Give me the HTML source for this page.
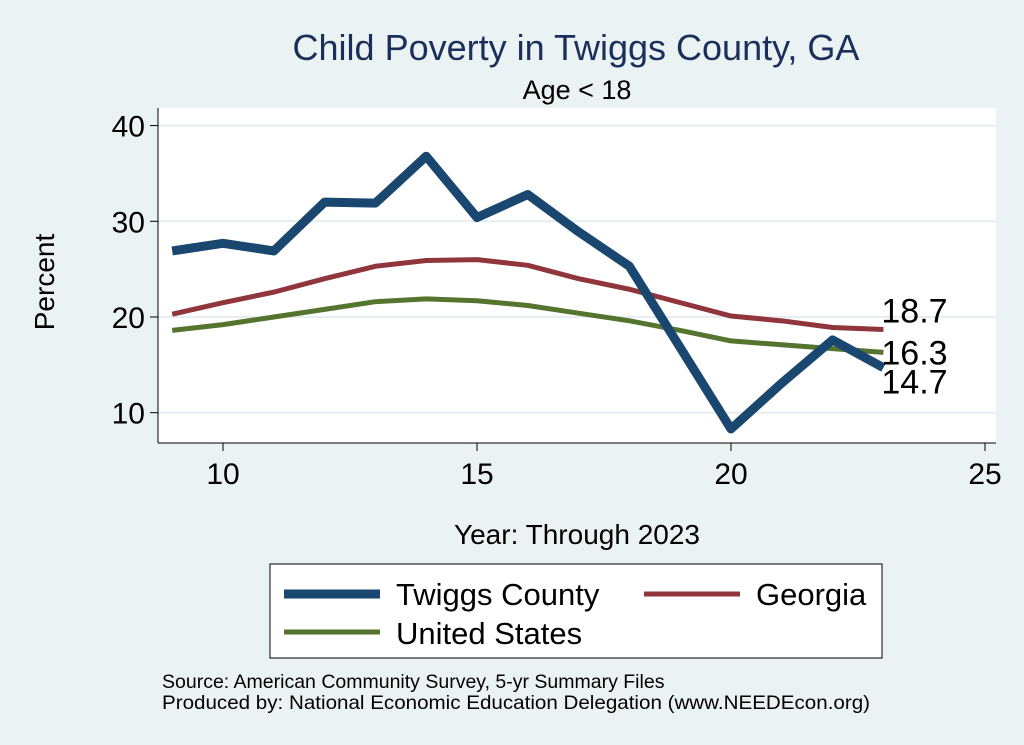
<!DOCTYPE html>
<html><head><meta charset="utf-8"><style>
body{margin:0;background:#eaf2f3;}
svg{display:block;font-family:"Liberation Sans",sans-serif;}
</style></head><body>
<svg id="c" width="1024" height="745">
<rect x="0" y="0" width="1024" height="745" fill="#eaf2f3"/>
<rect x="158" y="108" width="838" height="335" fill="#fff"/>
<text x="576" y="60" font-size="36" fill="#1a2f5a" text-anchor="middle">Child Poverty in Twiggs County, GA</text>
<text x="577" y="99" font-size="27" fill="#000" text-anchor="middle">Age &lt; 18</text>
<text x="54" y="282" font-size="28" text-anchor="middle" transform="rotate(-90 54 282)">Percent</text>
<text x="577" y="544" font-size="28" text-anchor="middle">Year: Through 2023</text>
<g id="grid"></g><g id="axes"></g><g id="series"></g>
<rect x="270" y="564" width="612" height="94" fill="#fff" stroke="#000" stroke-width="1"/>
<g><line x1="284" y1="594" x2="380" y2="594" stroke="#1a476f" stroke-width="9"/><text x="396" y="605" font-size="31">Twiggs County</text></g>
<g><line x1="644" y1="594" x2="740" y2="594" stroke="#90353b" stroke-width="5"/><text x="756" y="605" font-size="31">Georgia</text></g>
<g><line x1="284" y1="632" x2="380" y2="632" stroke="#55752f" stroke-width="5"/><text x="396" y="644" font-size="31">United States</text></g>
<text x="162" y="688" font-size="19.5">Source: American Community Survey, 5-yr Summary Files</text>
<text x="162" y="709" font-size="19.5" textLength="708" lengthAdjust="spacingAndGlyphs">Produced by: National Economic Education Delegation (www.NEEDEcon.org)</text>
</svg>
<script>
const years=[9,10,11,12,13,14,15,16,17,18,19,20,21,22,23];
const twiggs=[26.9,27.7,26.9,32.0,31.9,36.8,30.4,32.8,28.9,25.3,16.8,8.3,13.1,17.6,14.7];
const georgia=[20.3,21.5,22.6,24.0,25.3,25.9,26.0,25.4,24.0,22.9,21.5,20.1,19.6,18.9,18.7];
const us=[18.6,19.2,20.0,20.8,21.6,21.9,21.7,21.2,20.4,19.6,18.6,17.5,17.1,16.7,16.3];
const xTicks=[10,15,20,25];
const yTicks=[10,20,30,40];
const NS='http://www.w3.org/2000/svg';
const X=v=>223+(v-10)*50.8;
const Y=v=>317-(v-20)*9.57;
function mk(t,a,p){const e=document.createElementNS(NS,t);for(const k in a)e.setAttribute(k,a[k]);p.appendChild(e);return e;}
const grid=document.getElementById('grid'),axes=document.getElementById('axes'),ser=document.getElementById('series');
mk('line',{x1:158,y1:108,x2:158,y2:443,stroke:'#000','stroke-width':1},axes);
mk('line',{x1:158,y1:443,x2:996,y2:443,stroke:'#000','stroke-width':1},axes);
yTicks.forEach(v=>{
 const g=mk('line',{x1:158,y1:Y(v),x2:996,y2:Y(v),stroke:'#e6eef1','stroke-width':2},grid);
 
 mk('line',{x1:150,y1:Y(v),x2:158,y2:Y(v),stroke:'#000'},axes);
 const t=mk('text',{x:145,y:Y(v)+11,'font-size':30,'text-anchor':'end'},axes);t.textContent=v;
 
});
xTicks.forEach(v=>{
 mk('line',{x1:X(v),y1:443,x2:X(v),y2:451,stroke:'#000'},axes);
 const t=mk('text',{x:X(v),y:484,'font-size':30,'text-anchor':'middle'},axes);t.textContent=v;
 
});
function line(d,c,w,n){
 const p=mk('polyline',{points:d.map((v,i)=>X(years[i])+','+Y(v)).join(' '),fill:'none',stroke:c,'stroke-width':w,'stroke-linejoin':'round'},ser);
 
}
line(georgia,'#90353b',5,'georgia-line');
line(us,'#55752f',5,'us-line');
line(twiggs,'#1a476f',9,'twiggs-line');
const last=years.length-1;
[[georgia,-7,'georgia-end-label'],[us,12,'us-end-label'],[twiggs,26,'twiggs-end-label']].forEach(([d,dy,n])=>{
 const t=mk('text',{x:X(years[last])-2,y:Y(d[last])+dy,'font-size':34},ser);t.textContent=d[last].toFixed(1);
 
});
</script>
</body></html>
